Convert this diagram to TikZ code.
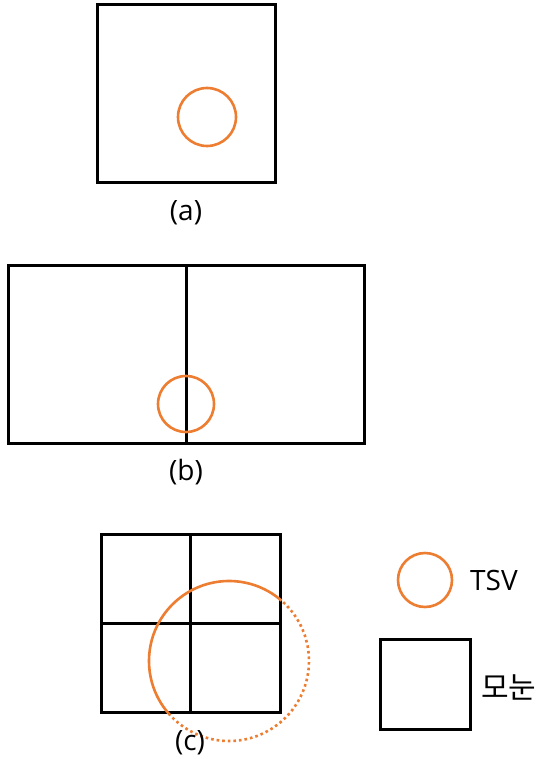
\documentclass[tikz,border=0pt]{standalone}
\usepackage{fontspec}
\setmainfont{Open Sans}
\newfontfamily\krfont{Noto Sans CJK KR}
\definecolor{tsvorange}{HTML}{ED7D31}
\tikzset{
  blk/.style={draw=black, line width=3pt},
  tsv/.style={draw=tsvorange, line width=2.6pt},
  lbl/.style={font=\fontsize{28}{32}\selectfont, inner sep=0pt}
}
\begin{document}
\begin{tikzpicture}[x=1pt,y=-1pt]
\useasboundingbox[fill=white] (0,0) rectangle (540,759);
% (a)
\draw[blk] (97,5) rectangle (275,183);
\draw[tsv] (207,117) circle (29);
\node[lbl] (la) at (186,213) {(a)};
% (b)
\draw[blk] (8,265) rectangle (364,443);
\draw[blk] (186,265) -- (186,443);
\draw[tsv] (186,404) circle (28);
\node[lbl] (lb) at (186,472) {(b)};
% (c)
\draw[blk] (101,534) rectangle (280,712);
\draw[blk] (190,534) -- (190,712);
\draw[blk] (101,623) -- (280,623);
\coordinate (cc) at (229,661);
\draw[tsv] ([shift={(-49:80)}]cc) arc[start angle=-49, end angle=-221, radius=80];
\draw[draw=tsvorange, line width=2.6pt, dash pattern=on 2.6pt off 3pt] ([shift={(-221:80)}]cc) arc[start angle=-221, end angle=-409, radius=80];
\node[lbl] (lc) at (190,743) {(c)};
% legend
\draw[tsv] (425,580) circle (27);
\node[lbl, anchor=west] (ltsv) at (470,580) {TSV};
\draw[blk] (380,639) rectangle (470,729);
\node[lbl, anchor=west, font=\krfont\fontsize{30}{34}\selectfont] (lgrid) at (481,687) {모눈};
\end{tikzpicture}
\end{document}
